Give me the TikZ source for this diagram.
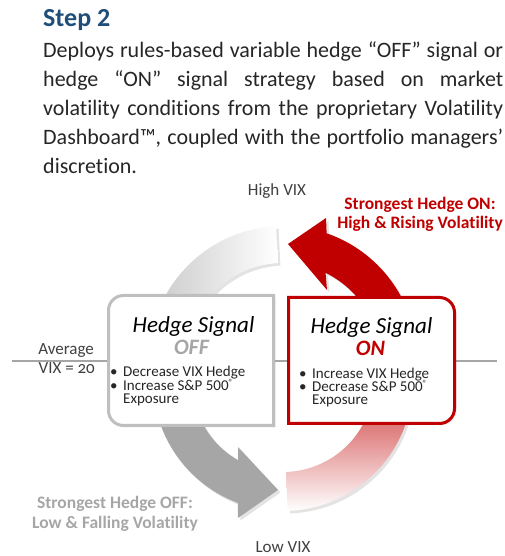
\documentclass[tikz,border=0pt]{standalone}
\usepackage{fontspec}
\setmainfont{Carlito}[Ligatures=NoCommon]
\usetikzlibrary{calc,shadows}
\definecolor{onred}{HTML}{C00000}
\definecolor{offgray}{HTML}{A6A6A6}
\definecolor{boxgray}{HTML}{BFBFBF}
\definecolor{titleblue}{HTML}{1F4E79}
\definecolor{txt}{HTML}{262626}
\definecolor{lbl}{HTML}{404040}
\tikzset{
  para/.style={anchor=base west, inner sep=0pt, text=txt, font=\fontsize{22}{29}\selectfont},
  bul/.style={anchor=base west, inner sep=0pt, text=txt, font=\fontsize{15}{13}\selectfont},
  boxhead/.style={anchor=base, inner sep=0pt, text=black, font=\fontsize{23}{27}\selectfont\itshape},
  sig/.style={anchor=base, inner sep=0pt, font=\fontsize{22}{26}\selectfont\bfseries\itshape},
  axislbl/.style={inner sep=0pt, text=lbl, font=\fontsize{17}{20}\selectfont},
  strong/.style={anchor=base, inner sep=0pt, font=\fontsize{17.5}{20}\selectfont\bfseries},
  sh/.style={drop shadow={shadow xshift=2.5pt, shadow yshift=-2.5pt, opacity=0.22}},
  bxline/.style={line width=3pt, fill=white}
}
\newcommand{\bt}{\makebox[13pt][l]{•}}
\newcommand{\regmark}{\raisebox{0.75ex}{\fontsize{9}{9}\selectfont ®}}
\begin{document}
\begin{tikzpicture}[x=1pt,y=1pt]
\useasboundingbox (0,0) rectangle (505,556);
% title and paragraph
\node[anchor=base west, inner sep=0pt, text=titleblue, font=\fontsize{26}{30}\selectfont\bfseries] (title) at (43,529) {Step 2};
\node[para] (p1) at (43,498) {\makebox[460pt][s]{Deploys rules-based variable hedge “OFF” signal or}};
\node[para] (p2) at (43,469) {\makebox[460pt][s]{hedge “ON” signal strategy based on market}};
\node[para] (p3) at (43,440) {\makebox[460pt][s]{volatility conditions from the proprietary Volatility}};
\node[para] (p4) at (43,411) {\makebox[460pt][s]{Dashboard™, coupled with the portfolio managers’}};
\node[para] (p5) at (43,382) {discretion.};
% axis line
\coordinate (axl) at (12,195);
\coordinate (axr) at (497,195);
\draw[offgray, line width=1.5pt] (axl) -- (axr);
% centers
\coordinate (C1) at (283,196);
\coordinate (C2) at (283,175);
% white top arc
\shade[sh, left color=black!20, right color=white]
  ($(C1)+(160:134)$) arc[start angle=160, end angle=93, radius=134]
  -- ($(C1)+(93:97)$) arc[start angle=93, end angle=160, radius=97] -- cycle;
% red arrow
\fill[sh, onred]
  ($(C1)+(20:134)$) arc[start angle=20, end angle=71, radius=134]
  -- (326,338) -- (288,312) -- (327,266)
  -- ($(C1)+(64:97)$) arc[start angle=64, end angle=20, radius=97] -- cycle;
% red gradient bottom arc
\shade[sh, top color=onred!65!white, middle color=onred!15!white, bottom color=white]
  ($(C2)+(-15:130)$) arc[start angle=-15, end angle=-88, radius=130]
  -- ($(C2)+(-88:91)$) arc[start angle=-88, end angle=-15, radius=91] -- cycle;
% gray arrow
\fill[sh, offgray]
  ($(C2)+(195:130)$) arc[start angle=195, end angle=249.7, radius=130]
  -- (238,38) -- (278,66) -- (238,109)
  -- ($(C2)+(240.4:91)$) arc[start angle=240.4, end angle=195, radius=91] -- cycle;
% OFF box
\draw[bxline, draw=boxgray, drop shadow={shadow xshift=2pt, shadow yshift=-2pt, opacity=0.15}]
  (273.5,260.5) -- (123.5,260.5) arc[start angle=90, end angle=180, radius=15]
  -- (108.5,145.5) arc[start angle=180, end angle=270, radius=15]
  -- (273.5,130.5) -- cycle;
% ON box
\draw[bxline, draw=onred, drop shadow={shadow xshift=2pt, shadow yshift=-2pt, opacity=0.15}]
  (288.5,258.5) -- (439.5,258.5) arc[start angle=90, end angle=0, radius=15]
  -- (454.5,147.5) arc[start angle=0, end angle=-90, radius=15]
  -- (288.5,132.5) -- cycle;
% OFF box text
\node[boxhead] (offh) at (193.5,223) {Hedge Signal};
\node[sig, text=offgray] (offs) at (191.5,201) {OFF};
\node[bul] (offb1) at (110,179) {\bt Decrease VIX Hedge};
\node[bul] (offb2) at (110,165.5) {\bt Increase S\&P 500\regmark};
\node[bul] (offb3) at (110,152.5) {\hspace{13pt}Exposure};
% ON box text
\node[boxhead] (onh) at (371.5,222) {Hedge Signal};
\node[sig, text=onred] (ons) at (370.5,200) {ON};
\node[bul] (onb1) at (299,177.5) {\bt Increase VIX Hedge};
\node[bul] (onb2) at (299,164) {\bt Decrease S\&P 500\regmark};
\node[bul] (onb3) at (299,151) {\hspace{13pt}Exposure};
% axis labels
\node[axislbl, anchor=base] (high) at (277,360) {High VIX};
\node[axislbl, anchor=base] (low) at (283,3) {Low VIX};
\node[axislbl, anchor=base east] (avg1) at (94,201) {Average};
\node[axislbl, anchor=base east] (avg2) at (95,182) {VIX = {\addfontfeatures{Numbers=OldStyle}20}};
% strongest labels
\node[strong, text=onred] (son1) at (420,346) {Strongest Hedge ON:};
\node[strong, text=onred] (son2) at (420,327) {High \& Rising Volatility};
\node[strong, text=offgray] (soff1) at (115,47) {Strongest Hedge OFF:};
\node[strong, text=offgray] (soff2) at (115,27) {Low \& Falling Volatility};
\end{tikzpicture}
\end{document}
